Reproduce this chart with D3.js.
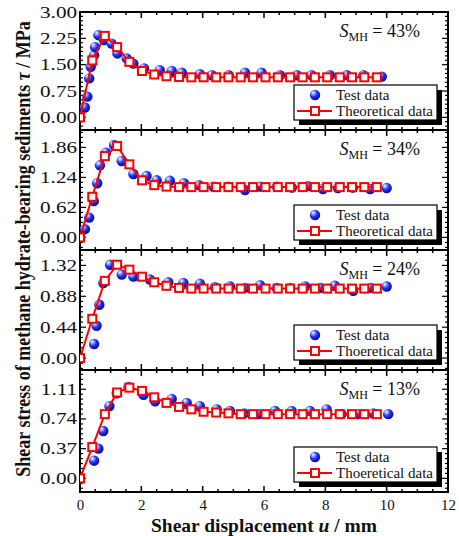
<!DOCTYPE html>
<html><head><meta charset="utf-8">
<script src="https://cdn.jsdelivr.net/npm/d3@7"></script>
<style>
html,body{margin:0;padding:0;background:#fff;}
svg text{font-family:"Liberation Serif","Times New Roman",Times,serif;}
</style></head>
<body><svg id="chart" width="459" height="536" font-family="Liberation Serif, Times New Roman, serif"></svg>
<script>
// ---------------- data ----------------
const xTicks = [0, 2, 4, 6, 8, 10, 12];
const panelNames = ["43%", "34%", "24%", "13%"];
const legendTest = ["Test data", "Test data", "Test data", "Test data"];
const legendTheory = ["Theoretical data", "Theoretical data", "Thoeretical data", "Thoeretical data"];

const yTicks43 = [0, 0.75, 1.50, 2.25, 3.00];
const yTicks34 = [0, 0.62, 1.24, 1.86];
const yTicks24 = [0, 0.44, 0.88, 1.32];
const yTicks13 = [0, 0.37, 0.74, 1.11];

const yDomain43 = [-0.36, 3.0];
const yDomain34 = [-0.26, 2.22];
const yDomain24 = [-0.17, 1.54];
const yDomain13 = [-0.17, 1.35];

// theoretical curve (shear displacement, mm)
const uTheory = [0, 0.40, 0.81, 1.21, 1.61, 2.02, 2.42, 2.82, 3.23, 3.63, 4.03, 4.44, 4.84,
  5.24, 5.64, 6.05, 6.45, 6.85, 7.26, 7.66, 8.06, 8.47, 8.87, 9.27, 9.68];
const tauTheory43 = [0, 1.62, 2.32, 2.00, 1.58, 1.32, 1.22, 1.17, 1.15, 1.14, 1.14, 1.14, 1.14,
  1.14, 1.14, 1.14, 1.14, 1.14, 1.14, 1.14, 1.14, 1.14, 1.14, 1.14, 1.14];
const tauTheory34 = [0, 0.84, 1.68, 1.89, 1.51, 1.18, 1.08, 1.05, 1.04, 1.04, 1.04, 1.04, 1.04,
  1.04, 1.04, 1.04, 1.04, 1.04, 1.04, 1.04, 1.04, 1.04, 1.04, 1.04, 1.04];
const tauTheory24 = [0, 0.56, 1.10, 1.33, 1.26, 1.16, 1.08, 1.03, 1.00, 0.99, 0.99, 0.99, 0.99,
  0.99, 0.99, 0.99, 0.99, 0.99, 0.99, 0.99, 0.99, 0.99, 0.99, 0.99, 0.99];
const tauTheory13 = [0, 0.39, 0.80, 1.07, 1.13, 1.09, 1.01, 0.94, 0.89, 0.86, 0.83, 0.82, 0.81,
  0.80, 0.80, 0.80, 0.80, 0.80, 0.80, 0.80, 0.80, 0.80, 0.80, 0.80, 0.80];

// test data
const uTest43 = [0.16, 0.24, 0.30, 0.35, 0.46, 0.49, 0.60, 0.78, 1.03, 1.22, 1.52, 1.74, 2.09, 2.60,
  2.99, 3.32, 3.91, 4.30, 4.85, 5.38, 5.92, 6.52, 7.07, 7.55, 8.15, 8.70, 9.24, 9.84];
const tauTest43 = [0.28, 0.59, 1.11, 1.44, 1.77, 2.00, 2.34, 2.20, 2.10, 1.82, 1.68, 1.53, 1.39, 1.34,
  1.32, 1.27, 1.23, 1.20, 1.20, 1.27, 1.27, 1.20, 1.20, 1.20, 1.20, 1.20, 1.20, 1.16];

const uTest34 = [0.16, 0.30, 0.45, 0.56, 0.65, 0.85, 1.11, 1.36, 1.74, 2.17, 2.50, 2.93, 3.39, 3.88,
  4.35, 4.84, 5.38, 5.87, 6.42, 6.91, 7.43, 7.92, 8.41, 8.90, 9.46, 10.0];
const tauTest34 = [0.17, 0.41, 0.75, 1.12, 1.49, 1.75, 1.91, 1.58, 1.31, 1.27, 1.18, 1.17, 1.12, 1.08,
  1.05, 1.05, 0.98, 1.05, 1.05, 1.03, 1.06, 1.00, 1.02, 1.03, 1.00, 1.02];

const uTest24 = [0.46, 0.54, 0.63, 0.76, 0.98, 1.36, 1.74, 2.28, 2.88, 3.37, 3.91, 4.40, 4.89, 5.38,
  5.87, 6.41, 6.85, 7.34, 7.83, 8.31, 8.91, 9.46, 10.0];
const tauTest24 = [0.20, 0.46, 0.76, 1.07, 1.33, 1.19, 1.16, 1.12, 1.08, 1.07, 1.06, 1.01, 1.02, 1.00,
  1.04, 1.00, 1.00, 1.02, 1.00, 1.03, 0.96, 1.00, 1.02];

const uTest13 = [0.46, 0.60, 0.76, 0.96, 1.20, 1.58, 2.07, 2.45, 2.99, 3.48, 3.91, 4.46, 4.89, 5.35,
  5.81, 6.36, 6.90, 7.50, 8.04, 8.53, 9.07, 9.56, 10.05];
const tauTest13 = [0.22, 0.37, 0.59, 0.90, 1.06, 1.14, 1.04, 0.96, 0.99, 0.94, 0.90, 0.86, 0.84, 0.81,
  0.80, 0.84, 0.84, 0.84, 0.86, 0.80, 0.80, 0.81, 0.80];

// ---------------- layout ----------------
const FONT = "Liberation Serif, Times New Roman, serif";
const svg = d3.select("#chart");
const left = 80, right = 448;
const panelTop = [12, 130, 250, 370];
const panelBottom = [130, 250, 370, 492];

const panels = [
  {name: panelNames[0], ticks: yTicks43, domain: yDomain43, ut: uTheory, tt: tauTheory43, ux: uTest43, tx: tauTest43},
  {name: panelNames[1], ticks: yTicks34, domain: yDomain34, ut: uTheory, tt: tauTheory34, ux: uTest34, tx: tauTest34},
  {name: panelNames[2], ticks: yTicks24, domain: yDomain24, ut: uTheory, tt: tauTheory24, ux: uTest24, tx: tauTest24},
  {name: panelNames[3], ticks: yTicks13, domain: yDomain13, ut: uTheory, tt: tauTheory13, ux: uTest13, tx: tauTest13}
];

const x = d3.scaleLinear().domain([0, 12]).range([left, right]);

// sphere gradient
const defs = svg.append("defs");
const grad = defs.append("radialGradient").attr("id", "ball")
  .attr("cx", "38%").attr("cy", "35%").attr("r", "65%").attr("fx", "32%").attr("fy", "28%");
grad.append("stop").attr("offset", "0%").attr("stop-color", "#ffffff");
grad.append("stop").attr("offset", "22%").attr("stop-color", "#9aaaff");
grad.append("stop").attr("offset", "55%").attr("stop-color", "#2233ee");
grad.append("stop").attr("offset", "100%").attr("stop-color", "#0a0a99");

const xMinor = d3.range(0, 12.01, 0.5);

panels.forEach((p, i) => {
  const top = panelTop[i], bottom = panelBottom[i];
  const y = d3.scaleLinear().domain(p.domain).range([bottom, top]);
  const g = svg.append("g");

  const clipId = "clip" + i;
  defs.append("clipPath").attr("id", clipId).append("rect")
    .attr("x", left).attr("y", top).attr("width", right - left).attr("height", bottom - top);

  // x ticks (top & bottom, inward)
  const xMajorSet = new Set(xTicks);
  xMinor.forEach(v => {
    const len = xMajorSet.has(v) ? 6 : 3;
    g.append("line").attr("x1", x(v)).attr("x2", x(v)).attr("y1", bottom).attr("y2", bottom - len)
      .attr("stroke", "#000").attr("stroke-width", 1.5);
    g.append("line").attr("x1", x(v)).attr("x2", x(v)).attr("y1", top).attr("y2", top + len)
      .attr("stroke", "#000").attr("stroke-width", 1.5);
  });

  // y ticks
  const step = p.ticks[1] - p.ticks[0];
  const minorStep = step / 6;
  const yMinorVals = [];
  for (let k = Math.ceil(p.domain[0] / minorStep); k * minorStep <= p.domain[1] + 1e-9; k++) yMinorVals.push(k * minorStep);
  yMinorVals.forEach(v => {
    const isMajor = Math.abs(Math.round(v / step) * step - v) < 1e-6;
    const len = isMajor ? 6 : 3;
    g.append("line").attr("x1", left).attr("x2", left + len).attr("y1", y(v)).attr("y2", y(v))
      .attr("stroke", "#000").attr("stroke-width", 1.2);
    g.append("line").attr("x1", right).attr("x2", right - len).attr("y1", y(v)).attr("y2", y(v))
      .attr("stroke", "#000").attr("stroke-width", 1.2);
  });

  // y tick labels (horizontally stretched, as in the source)
  p.ticks.forEach(v => {
    g.append("text").attr("transform", `translate(77,${y(v) + 5.5}) scale(1.32,1)`)
      .attr("text-anchor", "end").attr("font-size", 16).attr("fill", "#111")
      .attr("font-family", FONT)
      .text(v.toFixed(2));
  });

  // frame
  g.append("rect").attr("x", left).attr("y", top).attr("width", right - left).attr("height", bottom - top)
    .attr("fill", "none").attr("stroke", "#000").attr("stroke-width", 2);

  const data = g.append("g").attr("clip-path", `url(#${clipId})`);

  // test data (spheres)
  data.selectAll("circle.test").data(p.ux.map((u, k) => [u, p.tx[k]])).enter()
    .append("circle").attr("class", "test")
    .attr("cx", d => x(d[0])).attr("cy", d => y(d[1])).attr("r", 5.2)
    .attr("fill", "url(#ball)");

  // theoretical line
  const tdata = p.ut.map((u, k) => [u, p.tt[k]]);
  data.append("path").datum(tdata)
    .attr("d", d3.line().x(d => x(d[0])).y(d => y(d[1])))
    .attr("fill", "none").attr("stroke", "#ff0000").attr("stroke-width", 2);
  data.selectAll("rect.th").data(tdata).enter().append("rect").attr("class", "th")
    .attr("x", d => x(d[0]) - 4).attr("y", d => y(d[1]) - 4).attr("width", 8).attr("height", 8)
    .attr("fill", "#fff").attr("stroke", "#ff0000").attr("stroke-width", 2);

  // annotation S_MH
  const ann = g.append("text").attr("x", 420).attr("y", top + 25).attr("text-anchor", "end")
    .attr("font-size", 18).attr("fill", "#111").attr("font-family", FONT);
  ann.append("tspan").attr("font-style", "italic").text("S");
  ann.append("tspan").attr("font-size", 12).attr("dy", 4).text("MH");
  ann.append("tspan").attr("dy", -4).text(" = " + p.name);

  // legend
  const lx = 294, lw = 143, lh = 35, ly = bottom - 10 - lh;
  g.append("rect").attr("x", lx + 5).attr("y", ly + 5).attr("width", lw).attr("height", lh).attr("fill", "#000");
  g.append("rect").attr("x", lx).attr("y", ly).attr("width", lw).attr("height", lh)
    .attr("fill", "#fff").attr("stroke", "#000").attr("stroke-width", 1.2);
  g.append("circle").attr("cx", lx + 21).attr("cy", ly + 10).attr("r", 5.2).attr("fill", "url(#ball)");
  g.append("text").attr("x", lx + 42).attr("y", ly + 15).attr("font-size", 15).attr("fill", "#111")
    .attr("font-family", FONT).text(legendTest[i]);
  g.append("line").attr("x1", lx + 3).attr("x2", lx + 38).attr("y1", ly + 26).attr("y2", ly + 26)
    .attr("stroke", "#ff0000").attr("stroke-width", 2);
  g.append("rect").attr("x", lx + 17).attr("y", ly + 22).attr("width", 8).attr("height", 8)
    .attr("fill", "#fff").attr("stroke", "#ff0000").attr("stroke-width", 2);
  g.append("text").attr("x", lx + 42).attr("y", ly + 31).attr("font-size", 15).attr("fill", "#111")
    .attr("font-family", FONT).text(legendTheory[i]);
});

// x tick labels (bottom only)
const bottomAxis = d3.axisBottom(x).tickValues(xTicks).tickSize(0).tickPadding(0).tickFormat(d3.format("d"));
const ax = svg.append("g").attr("transform", `translate(0,${panelBottom[3]})`).call(bottomAxis);
ax.attr("font-family", FONT);
ax.select(".domain").remove();
ax.selectAll("text").attr("font-size", 15).attr("font-family", FONT)
  .attr("fill", "#111").attr("y", 18).attr("dy", 0);

// x title
const xt = svg.append("text").attr("x", 264).attr("y", 532).attr("text-anchor", "middle")
  .attr("font-size", 19.5).attr("font-weight", "bold").attr("fill", "#111").attr("font-family", FONT);
xt.append("tspan").text("Shear displacement ");
xt.append("tspan").attr("font-style", "italic").text("u");
xt.append("tspan").text(" / mm");

// y title (compressed along its length, as in the source)
const yt = svg.append("text").attr("text-anchor", "middle")
  .attr("font-size", 20).attr("font-weight", "bold").attr("fill", "#111").attr("font-family", FONT);
yt.append("tspan").text("Shear stress of methane hydrate-bearing sediments  ");
yt.append("tspan").attr("font-style", "italic").text("τ");
yt.append("tspan").text(" / MPa");
const w = yt.node().getComputedTextLength();
const sx = 456 / w;
yt.attr("transform", `translate(30,249) rotate(-90) scale(${sx},1)`);
</script></body></html>
